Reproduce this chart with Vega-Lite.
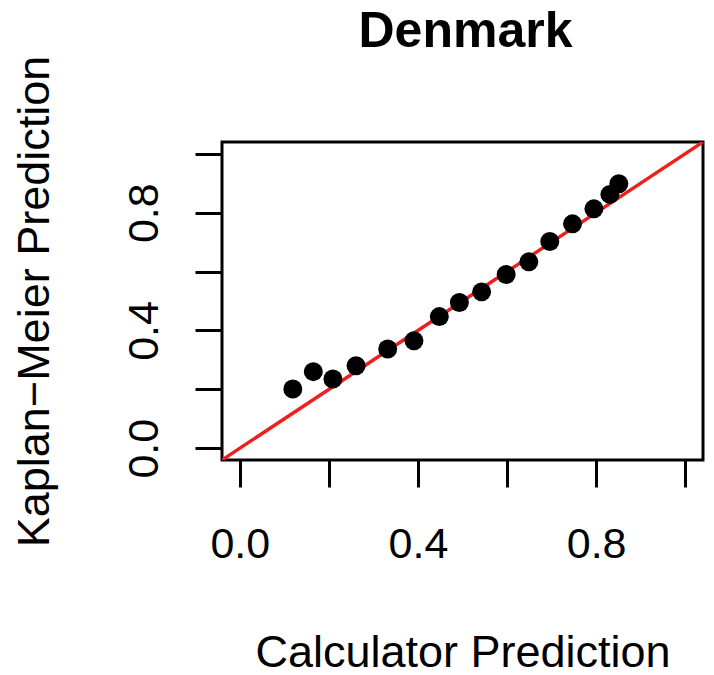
{
  "$schema": "https://vega.github.io/schema/vega-lite/v6.json",
  "autosize": "none",
  "padding": {"left": 222, "top": 142, "right": 11, "bottom": 215},
  "width": 481,
  "height": 318,
  "background": "white",
  "title": {
    "text": "Denmark",
    "font": "Liberation Sans",
    "fontSize": 50,
    "fontWeight": "bold",
    "color": "black",
    "anchor": "middle",
    "baseline": "alphabetic",
    "offset": 7,
    "dy": 49,
    "dx": 3
  },
  "config": {
    "view": {"stroke": "black", "strokeWidth": 3},
    "axis": {
      "grid": false,
      "domain": false,
      "ticks": true,
      "tickSize": 27,
      "tickWidth": 3,
      "tickColor": "black",
      "labelFont": "Liberation Sans",
      "labelFontSize": 43,
      "labelColor": "black",
      "titleFont": "Liberation Sans",
      "titleFontSize": 45,
      "titleFontWeight": "normal",
      "titleColor": "black",
      "labelOverlap": false,
      "labelFlush": false
    }
  },
  "datasets": {
    "km": [
      {"calc": 0.119, "km": 0.201},
      {"calc": 0.165, "km": 0.260},
      {"calc": 0.209, "km": 0.235},
      {"calc": 0.261, "km": 0.280},
      {"calc": 0.332, "km": 0.337},
      {"calc": 0.391, "km": 0.365},
      {"calc": 0.448, "km": 0.447},
      {"calc": 0.493, "km": 0.495},
      {"calc": 0.543, "km": 0.531},
      {"calc": 0.598, "km": 0.590},
      {"calc": 0.649, "km": 0.633},
      {"calc": 0.696, "km": 0.702},
      {"calc": 0.747, "km": 0.762},
      {"calc": 0.795, "km": 0.813},
      {"calc": 0.831, "km": 0.862},
      {"calc": 0.851, "km": 0.898}
    ],
    "identity": [
      {"calc": -0.04, "km": -0.04},
      {"calc": 1.04, "km": 1.04}
    ]
  },
  "layer": [
    {
      "data": {"name": "identity"},
      "mark": {"type": "line", "color": "#EE1F1F", "strokeWidth": 3.4, "clip": true},
      "encoding": {
        "x": {"field": "calc", "type": "quantitative"},
        "y": {"field": "km", "type": "quantitative"}
      }
    },
    {
      "data": {"name": "km"},
      "mark": {"type": "point", "filled": true, "color": "black", "opacity": 1, "size": 360, "shape": "circle", "strokeWidth": 0},
      "encoding": {
        "x": {
          "field": "calc",
          "type": "quantitative",
          "scale": {"domain": [-0.04, 1.04], "nice": false, "zero": false},
          "axis": {
            "title": "Calculator Prediction",
            "values": [0, 0.2, 0.4, 0.6, 0.8, 1.0],
            "labelExpr": "round(datum.value * 10) % 4 == 0 ? format(datum.value, '.1f') : ''",
            "labelBaseline": "top",
            "labelPadding": 36,
            "titleBaseline": "alphabetic",
            "titleY": 206
          }
        },
        "y": {
          "field": "km",
          "type": "quantitative",
          "scale": {"domain": [-0.04, 1.04], "nice": false, "zero": false},
          "axis": {
            "title": "Kaplan−Meier Prediction",
            "values": [0, 0.2, 0.4, 0.6, 0.8, 1.0],
            "labelExpr": "round(datum.value * 10) % 4 == 0 ? format(datum.value, '.1f') : ''",
            "labelAngle": -90,
            "labelAlign": "center",
            "labelBaseline": "alphabetic",
            "labelPadding": 38,
            "titleAngle": -90,
            "titleAlign": "center",
            "titleBaseline": "alphabetic",
            "titleX": -174,
            "titleY": 159
          }
        }
      }
    }
  ]
}
